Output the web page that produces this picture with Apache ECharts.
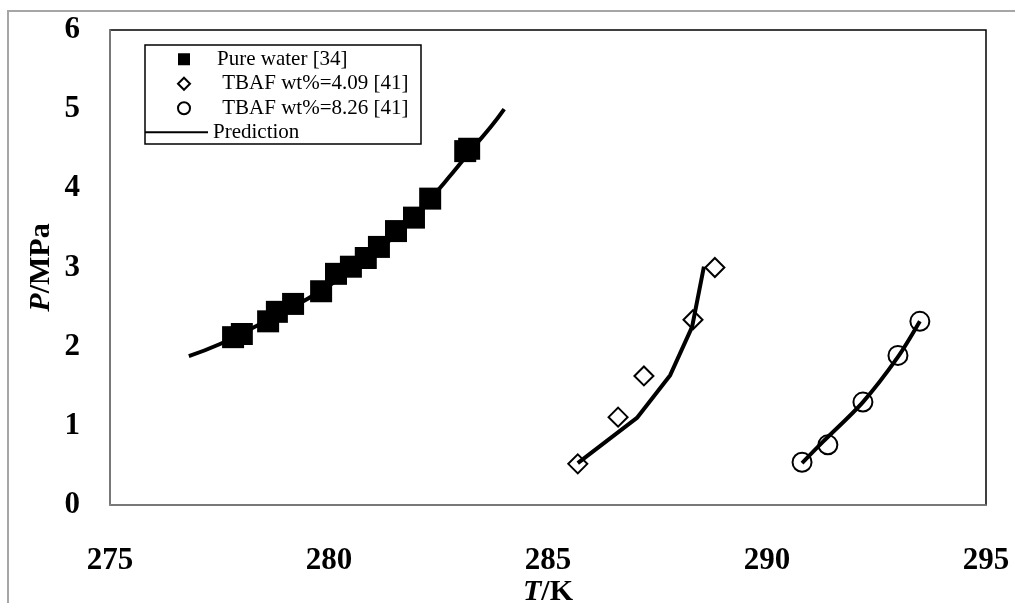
<!DOCTYPE html>
<html>
<head>
<meta charset="utf-8">
<script src="https://cdn.jsdelivr.net/npm/echarts@6/dist/echarts.min.js"></script>
<style>
  html, body { margin: 0; padding: 0; background: #fff; }
  #chart { width: 1015px; height: 603px; }
</style>
</head>
<body>
<div id="chart"></div>
<script>
// 实验数据 (T/K, P/MPa)
const waterT = [277.81, 278.01, 278.61, 278.81, 279.18, 279.82, 280.16, 280.50, 280.84, 281.14, 281.53, 281.94, 282.31, 283.11, 283.20]
const waterP = [2.12, 2.16, 2.32, 2.44, 2.54, 2.70, 2.92, 3.01, 3.12, 3.26, 3.46, 3.63, 3.87, 4.47, 4.50]

const tbaf409T = [285.68, 286.60, 287.19, 288.31, 288.81]
const tbaf409P = [0.52, 1.11, 1.63, 2.34, 3.00]

const tbaf826T = [290.80, 291.39, 292.19, 292.99, 293.49]
const tbaf826P = [0.54, 0.76, 1.30, 1.89, 2.32]

// 预测曲线
const predWaterT = [276.8, 277.5, 278.2, 279.0, 279.8, 280.6, 281.4, 282.2, 282.8, 283.3, 283.7, 284.0]
const predWaterP = [1.88, 2.03, 2.22, 2.45, 2.70, 3.00, 3.35, 3.80, 4.18, 4.52, 4.78, 5.00]

const pred409T = [285.68, 287.03, 287.79, 288.29, 288.56]
const pred409P = [0.53, 1.10, 1.64, 2.25, 3.01]

const pred826T = [290.80, 291.28, 292.19, 292.99, 293.49]
const pred826P = [0.53, 0.80, 1.30, 1.87, 2.32]

const zip = (xs, ys) => xs.map((x, i) => [x, ys[i]])

const serif = 'Liberation Serif'
const nameWater = 'Pure water [34]'
const name409 = ' TBAF wt%=4.09 [41]'
const name826 = ' TBAF wt%=8.26 [41]'
const namePred = 'Prediction'

const chart = echarts.init(document.getElementById('chart'))

const hollow = {
    color: 'rgba(0,0,0,0)',
    borderColor: '#000',
    borderWidth: 2,
    opacity: 1
}

const legendText = { fontFamily: serif, fontSize: 21, color: '#000', lineHeight: 24.5 }

const predLine = (data, smooth) => ({
    name: namePred,
    type: 'line',
    data: data,
    smooth: smooth,
    symbol: 'none',
    z: 3,
    lineStyle: { color: '#000', width: 4 },
    itemStyle: { color: '#000' }
})

const option = {
    backgroundColor: '#fff',
    animation: false,
    grid: {
        left: 110,
        right: 29,
        top: 30,
        bottom: 98,
        outerBoundsMode: 'none',
        containLabel: false,
        show: true,
        borderColor: '#000',
        borderWidth: 1.5,
        backgroundColor: '#fff'
    },
    graphic: [
        // 外框
        {
            type: 'rect',
            shape: { x: 8, y: 11, width: 1030, height: 620 },
            style: { fill: 'none', stroke: '#a6a6a6', lineWidth: 2 },
            silent: true,
            z: -1
        },
        // 图例框
        {
            type: 'rect',
            shape: { x: 145, y: 45, width: 276, height: 99 },
            style: { fill: '#fff', stroke: '#000', lineWidth: 1.5 },
            silent: true,
            z: 10
        }
    ],
    legend: [
        {
            orient: 'vertical',
            left: 177,
            top: 47,
            padding: 0,
            itemGap: 0,
            itemWidth: 12,
            itemHeight: 12,
            selectedMode: false,
            z: 20,
            data: [
                { name: nameWater, itemStyle: { opacity: 1 } },
                { name: name409, icon: 'diamond' },
                { name: name826, icon: 'circle' }
            ],
            textStyle: Object.assign({ padding: [0, 0, 0, 22] }, legendText)
        },
        {
            orient: 'vertical',
            left: 145,
            top: 120,
            padding: 0,
            itemWidth: 63,
            itemHeight: 2,
            selectedMode: false,
            z: 20,
            data: [{ name: namePred, icon: 'rect', itemStyle: { color: '#000' } }],
            textStyle: legendText
        }
    ],
    xAxis: {
        type: 'value',
        min: 275,
        max: 295,
        interval: 5,
        name: '{i|T}/K',
        nameLocation: 'middle',
        nameGap: 72,
        nameMoveOverlap: false,
        nameTextStyle: {
            fontFamily: serif,
            fontSize: 30,
            fontWeight: 'bold',
            color: '#000',
            rich: {
                i: { fontFamily: serif, fontSize: 30, fontWeight: 'bold', fontStyle: 'italic', color: '#000' }
            }
        },
        splitLine: { show: false },
        axisTick: { show: false },
        axisLine: { lineStyle: { color: '#8c8c8c', width: 1.5 } },
        axisLabel: {
            margin: 40,
            fontFamily: serif,
            fontSize: 31,
            fontWeight: 'bold',
            color: '#000'
        }
    },
    yAxis: {
        type: 'value',
        min: 0,
        max: 6,
        interval: 1,
        name: '{i|P}/MPa',
        nameLocation: 'middle',
        nameGap: 54,
        nameMoveOverlap: false,
        nameTextStyle: {
            fontFamily: serif,
            fontSize: 30,
            fontWeight: 'bold',
            color: '#000',
            rich: {
                i: { fontFamily: serif, fontSize: 30, fontWeight: 'bold', fontStyle: 'italic', color: '#000' }
            }
        },
        splitLine: { show: false },
        axisTick: { show: false },
        axisLine: { show: true, lineStyle: { color: '#8c8c8c', width: 1.5 } },
        axisLabel: {
            margin: 30,
            fontFamily: serif,
            fontSize: 31,
            fontWeight: 'bold',
            color: '#000'
        }
    },
    series: [
        {
            name: nameWater,
            type: 'scatter',
            symbol: 'rect',
            symbolSize: 22,
            z: 2,
            itemStyle: { color: '#000', opacity: 1 },
            data: zip(waterT, waterP)
        },
        {
            name: name409,
            type: 'scatter',
            symbol: 'diamond',
            symbolSize: 19,
            z: 4,
            itemStyle: hollow,
            data: zip(tbaf409T, tbaf409P)
        },
        {
            name: name826,
            type: 'scatter',
            symbol: 'circle',
            symbolSize: 19,
            z: 4,
            itemStyle: hollow,
            data: zip(tbaf826T, tbaf826P)
        },
        predLine(zip(predWaterT, predWaterP), true),
        predLine(zip(pred409T, pred409P), false),
        predLine(zip(pred826T, pred826P), 0.3)
    ]
}

chart.setOption(option)
</script>
</body>
</html>
